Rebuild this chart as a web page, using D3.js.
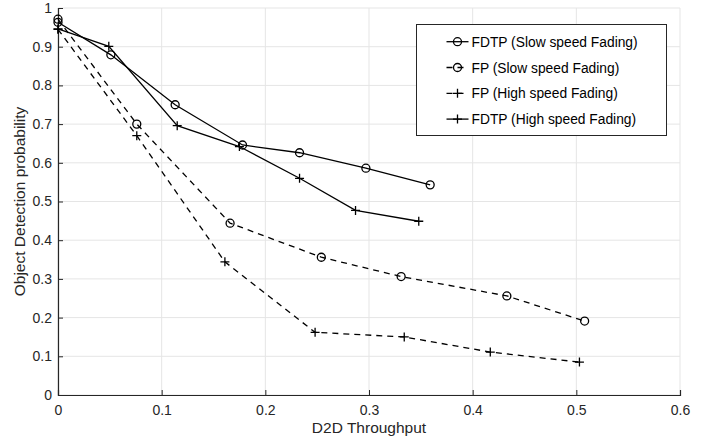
<!DOCTYPE html>
<html>
<head>
<meta charset="utf-8">
<script src="https://cdn.jsdelivr.net/npm/d3@7"></script>
<style>
    body { margin: 0; background: #fff; }
    svg { display: block; font-family: "Liberation Sans", Arial, sans-serif; }
</style>
</head>
<body>
<div id="chart"></div>
<script>
/* ===== DATA ===== */
const xTicks = [0, 0.1, 0.2, 0.3, 0.4, 0.5, 0.6];
const yTicks = [0, 0.1, 0.2, 0.3, 0.4, 0.5, 0.6, 0.7, 0.8, 0.9, 1];

const fdtpSlowX = [0, 0.051, 0.113, 0.178, 0.233, 0.297, 0.359];
const fdtpSlowY = [0.963, 0.879, 0.750, 0.646, 0.626, 0.586, 0.543];

const fpSlowX = [0, 0.076, 0.166, 0.254, 0.331, 0.433, 0.508];
const fpSlowY = [0.971, 0.700, 0.444, 0.356, 0.306, 0.256, 0.191];

const fpHighX = [0, 0.076, 0.161, 0.248, 0.334, 0.417, 0.503];
const fpHighY = [0.945, 0.670, 0.344, 0.162, 0.150, 0.111, 0.085];

const fdtpHighX = [0, 0.049, 0.115, 0.175, 0.233, 0.287, 0.348];
const fdtpHighY = [0.946, 0.901, 0.696, 0.642, 0.560, 0.477, 0.449];

const seriesNames = [
    "FDTP (Slow speed Fading)",
    "FP (Slow speed Fading)",
    "FP (High speed Fading)",
    "FDTP (High speed Fading)"
];

const series = [
    { name: seriesNames[0], xs: fdtpSlowX, ys: fdtpSlowY, marker: "circle", dashed: false },
    { name: seriesNames[1], xs: fpSlowX, ys: fpSlowY, marker: "circle", dashed: true },
    { name: seriesNames[2], xs: fpHighX, ys: fpHighY, marker: "plus", dashed: true },
    { name: seriesNames[3], xs: fdtpHighX, ys: fdtpHighY, marker: "plus", dashed: false }
];

/* ===== LAYOUT ===== */
const width = 715;
const height = 441;
const margin = { left: 58, right: 35, top: 8, bottom: 46 };
const axisColor = "#262626";
const gridColor = "#e5e5e5";
const dash = "6,5";

const svg = d3.select("#chart")
    .append("svg")
    .attr("width", width)
    .attr("height", height);

const x = d3.scaleLinear()
    .domain([0, 0.6])
    .range([margin.left, width - margin.right]);

const y = d3.scaleLinear()
    .domain([0, 1])
    .range([height - margin.bottom, margin.top]);

/* ===== GRID ===== */
const grid = svg.append("g");

grid.selectAll(".vgrid")
    .data(xTicks)
    .enter()
    .append("line")
    .attr("x1", (d) => x(d))
    .attr("x2", (d) => x(d))
    .attr("y1", y(0))
    .attr("y2", y(1))
    .attr("stroke", gridColor)
    .attr("stroke-width", 1);

grid.selectAll(".hgrid")
    .data(yTicks)
    .enter()
    .append("line")
    .attr("x1", x(0))
    .attr("x2", x(0.6))
    .attr("y1", (d) => y(d))
    .attr("y2", (d) => y(d))
    .attr("stroke", gridColor)
    .attr("stroke-width", 1);

/* ===== AXES ===== */
const xAxis = svg.append("g")
    .attr("transform", `translate(0,${y(0)})`)
    .call(d3.axisBottom(x).tickValues(xTicks).tickSize(-5).tickPadding(10)
        .tickFormat((d) => d === 0 ? "0" : d3.format(".1f")(d)));

const yAxis = svg.append("g")
    .attr("transform", `translate(${x(0)},0)`)
    .call(d3.axisLeft(y).tickValues(yTicks).tickSize(-5).tickPadding(6)
        .tickFormat((d) => (d === 0 || d === 1) ? String(d) : d3.format(".1f")(d)));

[xAxis, yAxis].forEach((ax) => {
    ax.select(".domain").attr("stroke", axisColor).attr("stroke-width", 1.2);
    ax.selectAll(".tick line").attr("stroke", axisColor).attr("stroke-width", 1);
    ax.selectAll(".tick text")
        .attr("fill", axisColor)
        .style("font-size", "14px")
        .style("font-family", "Liberation Sans, Arial, sans-serif");
});

svg.append("text")
    .attr("x", (x(0) + x(0.6)) / 2)
    .attr("y", 433)
    .attr("text-anchor", "middle")
    .attr("fill", axisColor)
    .style("font-size", "15.5px")
    .text("D2D Throughput");

svg.append("text")
    .attr("transform", `translate(25,${(y(0) + y(1)) / 2}) rotate(-90)`)
    .attr("text-anchor", "middle")
    .attr("fill", axisColor)
    .style("font-size", "15.5px")
    .text("Object Detection probability");

/* ===== MARKERS ===== */
function drawMarker(g, type, cx, cy) {
    if (type === "circle") {
        g.append("circle")
            .attr("cx", cx)
            .attr("cy", cy)
            .attr("r", 4)
            .attr("fill", "none")
            .attr("stroke", "#000")
            .attr("stroke-width", 1.3);
    } else {
        g.append("path")
            .attr("d", `M${cx - 4.5},${cy}H${cx + 4.5}M${cx},${cy - 4.5}V${cy + 4.5}`)
            .attr("stroke", "#000")
            .attr("stroke-width", 1.3);
    }
}

/* ===== SERIES ===== */
const line = d3.line()
    .x((d) => x(d[0]))
    .y((d) => y(d[1]));

series.forEach((s) => {
    const pts = s.xs.map((v, i) => [v, s.ys[i]]);
    const g = svg.append("g");

    g.append("path")
        .datum(pts)
        .attr("d", line)
        .attr("fill", "none")
        .attr("stroke", "#000")
        .attr("stroke-width", 1.3)
        .attr("stroke-dasharray", s.dashed ? dash : null);

    pts.forEach((p) => drawMarker(g, s.marker, x(p[0]), y(p[1])));
});

/* ===== LEGEND ===== */
const legend = svg.append("g");

legend.append("rect")
    .attr("x", 416.5)
    .attr("y", 24.5)
    .attr("width", 250)
    .attr("height", 111)
    .attr("fill", "#fff")
    .attr("stroke", axisColor)
    .attr("stroke-width", 1);

series.forEach((s, i) => {
    const cy = 41.7 + i * 25.8;
    const g = legend.append("g");

    g.append("line")
        .attr("x1", 446.5)
        .attr("x2", 468.5)
        .attr("y1", cy)
        .attr("y2", cy)
        .attr("stroke", "#000")
        .attr("stroke-width", 1.3)
        .attr("stroke-dasharray", s.dashed ? dash : null);

    drawMarker(g, s.marker, 457.5, cy);

    g.append("text")
        .attr("x", 471.5)
        .attr("y", cy + 5)
        .attr("fill", "#000")
        .style("font-size", "13.8px")
        .text(s.name);
});
</script>
</body>
</html>
